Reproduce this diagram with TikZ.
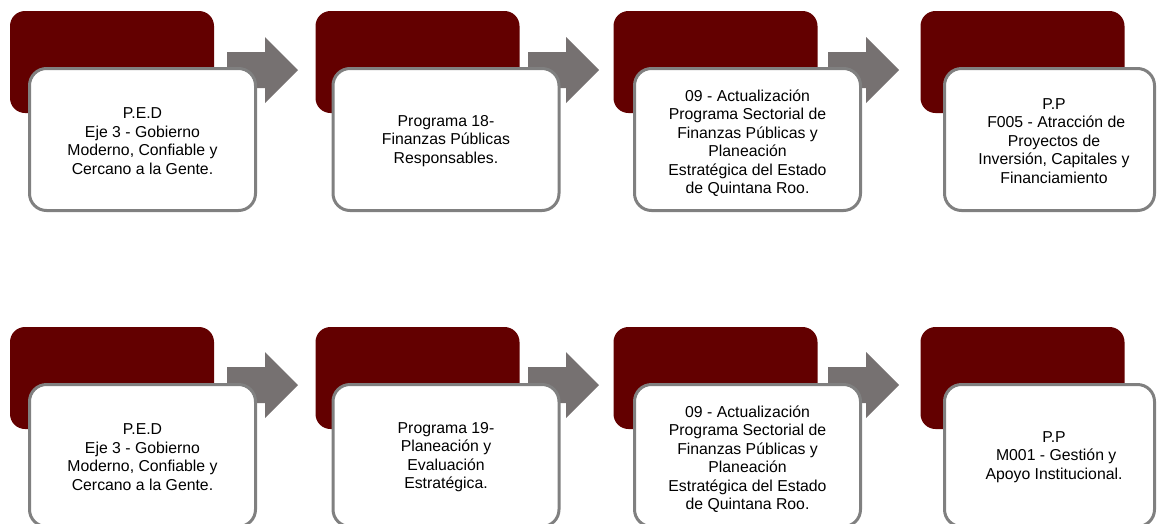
\documentclass[tikz,border=0pt]{standalone}
\usepackage{fontspec}
\setmainfont{Liberation Sans}
\definecolor{maroon}{RGB}{99,0,0}
\definecolor{arrowgray}{RGB}{118,113,113}
\definecolor{boxgray}{RGB}{128,128,128}
\tikzset{
  redbox/.style={draw=none, fill=maroon, rounded corners=15pt, inner sep=0pt, minimum width=204pt, minimum height=102pt},
  whitebox/.style={draw=boxgray, line width=3pt, fill=white, rounded corners=17pt, inner sep=0pt, minimum width=226pt, minimum height=142pt},
  lbl/.style={align=center, inner sep=0pt, font=\fontsize{15.8}{18.5}\selectfont},
  flowarrow/.style={fill=arrowgray, draw=none}
}
\begin{document}
\begin{tikzpicture}[x=1pt,y=-1pt]
\useasboundingbox (0,0) rectangle (1157,523);
% red back boxes
\foreach \r/\dy in {t/0, b/316}{
  \node[redbox] (\r red1) at (112,62+\dy) {};
  \node[redbox] (\r red2) at (417.5,62+\dy) {};
  \node[redbox] (\r red3) at (715.5,62+\dy) {};
  \node[redbox] (\r red4) at (1022.5,62+\dy) {};
}
% block arrows
\foreach \r/\dy in {t/0, b/315}{
  \foreach \i/\x in {1/227, 2/528, 3/828}{
    \coordinate (\r arr\i) at (\x,70+\dy);
    \fill[flowarrow] (\r arr\i) ++(0,-18) -- ++(38,0) -- ++(0,-15) -- ++(33,33) -- ++(-33,33) -- ++(0,-15) -- ++(-38,0) -- cycle;
  }
}
% white front boxes
\foreach \r/\dy in {t/0, b/316}{
  \node[whitebox] (\r white1) at (142.5,139.5+\dy) {};
  \node[whitebox] (\r white2) at (446,139.5+\dy) {};
  \node[whitebox] (\r white3) at (747.5,139.5+\dy) {};
  \node[whitebox, minimum width=210pt] (\r white4) at (1049.5,139.5+\dy) {};
}
% texts top row
\node[lbl] (tt1) at (142.5,141) {P.E.D\\Eje 3 - Gobierno\\Moderno, Confiable y\\Cercano a la Gente.};
\node[lbl] (tt2) at (446,141) {Programa 18-\\Finanzas Públicas\\Responsables.};
\node[lbl] (tt3) at (747.5,143) {09 - Actualización\\Programa Sectorial de\\Finanzas Públicas y\\Planeación\\Estratégica del Estado\\de Quintana Roo.};
\node[lbl] (tt4) at (1054,141) {P.P\\\ F005 - Atracción de\\Proyectos de\\Inversión, Capitales y\\Financiamiento};
% texts bottom row
\node[lbl] (bt1) at (142.5,457) {P.E.D\\Eje 3 - Gobierno\\Moderno, Confiable y\\Cercano a la Gente.};
\node[lbl] (bt2) at (446,457) {Programa 19-\\Planeación y\\Evaluación\\Estratégica.};
\node[lbl] (bt3) at (747.5,459) {09 - Actualización\\Programa Sectorial de\\Finanzas Públicas y\\Planeación\\Estratégica del Estado\\de Quintana Roo.};
\node[lbl] (bt4) at (1054,457) {P.P\\\ M001 - Gestión y\\Apoyo Institucional.};
\end{tikzpicture}
\end{document}
